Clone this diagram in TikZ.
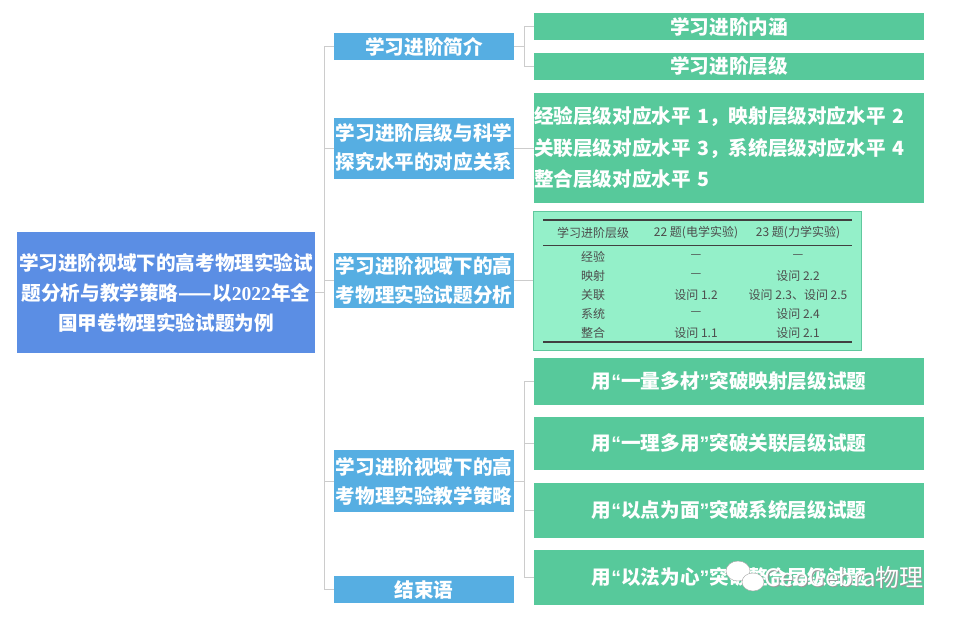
\documentclass[tikz,border=0pt]{standalone}
\usepackage{fontspec}
\setmainfont{Noto Sans CJK SC}
\newfontfamily\numfont{Liberation Serif}
\newfontfamily\quotefont{Liberation Sans}
\newcommand\quoted[1]{{\quotefont “}#1{\quotefont ”}}
\definecolor{rootblue}{RGB}{91,142,228}
\definecolor{topicblue}{RGB}{86,174,226}
\definecolor{leafgreen}{RGB}{87,201,155}
\definecolor{tablegreen}{RGB}{148,240,201}
\definecolor{tableedge}{RGB}{96,200,158}
\tikzset{
    rootbox/.style={fill=rootblue, text=white, font=\bfseries\fontsize{19.6}{30}\selectfont, align=center, inner sep=0pt, minimum width=298, minimum height=121},
    topicbox/.style={fill=topicblue, text=white, font=\bfseries\fontsize{19.6}{29}\selectfont, align=center, inner sep=0pt, minimum width=180},
    leafbox/.style={fill=leafgreen, text=white, font=\bfseries\fontsize{19.6}{31.5}\selectfont, align=center, inner sep=0pt, minimum width=390},
    cell/.style={text=black!70, font=\fontsize{12}{14}\selectfont, inner sep=0pt},
    link/.style={draw=gray!40, line width=0.8pt},
}
\begin{document}
\begin{tikzpicture}[x=1pt, y=-1pt]
        \fill[white] (0, 0) rectangle (960, 622);
        \useasboundingbox (0, 0) rectangle (960, 622);

        \node[rootbox] (root) at (166, 292.5) {学习进阶视域下的高考物理实验试\\题分析与教学策略——以{\numfont 2022}年全\\国甲卷物理实验试题为例};

        \node[topicbox, minimum height=27] (intro) at (424, 46.5) {学习进阶简介};
        \node[topicbox, minimum height=61] (corr) at (424, 148) {学习进阶层级与科学\\探究水平的对应关系};
        \node[topicbox, minimum height=55] (anal) at (424, 280.5) {学习进阶视域下的高\\考物理实验试题分析};
        \node[topicbox, minimum height=62] (strat) at (424, 481) {学习进阶视域下的高\\考物理实验教学策略};
        \node[topicbox, minimum height=27] (concl) at (424, 589.5) {结束语};

        \node[leafbox, minimum height=27] (connot) at (729, 26.5) {学习进阶内涵};
        \node[leafbox, minimum height=27] (levels) at (729, 66.5) {学习进阶层级};
        \node[leafbox, minimum height=110, align=left, text width=390] (maps) at (729, 148) {经验层级对应水平 1，映射层级对应水平 2\\关联层级对应水平 3，系统层级对应水平 4\\整合层级对应水平 5};
        \node[fill=tablegreen, draw=tableedge, line width=1pt, minimum width=328, minimum height=139] (table) at (697, 280.5) {};
        \node[leafbox, minimum height=47] (s1) at (729, 381.5) {用\quoted{一量多材}突破映射层级试题};
        \node[leafbox, minimum height=53] (s2) at (729, 443.5) {用\quoted{一理多用}突破关联层级试题};
        \node[leafbox, minimum height=55] (s3) at (729, 510.5) {用\quoted{以点为面}突破系统层级试题};
        \node[leafbox, minimum height=55] (s4) at (729, 577.5) {用\quoted{以法为心}突破整合层级试题};

        \draw[black!75, line width=1.3pt] (543, 220) -- (852, 220);
        \draw[black!75, line width=0.5pt] (543, 245) -- (852, 245);
        \draw[black!75, line width=1.3pt] (543, 342) -- (852, 342);
        \node[cell] (head1) at (593, 233) {学习进阶层级};
        \node[cell] (head2) at (696, 233) {22 题(电学实验)};
        \node[cell] (head3) at (798, 233) {23 题(力学实验)};
        \foreach \lvl/\qa/\qb [count=\i] in {经验/—/—, 映射/—/设问 2.2, 关联/设问 1.2/设问 2.3、设问 2.5, 系统/—/设问 2.4, 整合/设问 1.1/设问 2.1} {
            \node[cell] (lvl\i) at (593, 238 + 19*\i) {\lvl};
            \node[cell] (qa\i) at (696, 238 + 19*\i) {\qa};
            \node[cell] (qb\i) at (798, 238 + 19*\i) {\qb};
        }

        \coordinate (trunk) at (324, 292.5);
        \draw[link] (root.east) -- (trunk);
        \foreach \n in {intro, corr, anal, strat, concl}
            \draw[link] (trunk) |- (\n.west);
        \coordinate (introfork) at (524, 46.5);
        \draw[link] (intro.east) -- (introfork);
        \foreach \n in {connot, levels}
            \draw[link] (introfork) |- (\n.west);
        \draw[link] (corr.east) -- (maps.west);
        \draw[link] (anal.east) -- (table.west);
        \coordinate (stratfork) at (524, 481);
        \draw[link] (strat.east) -- (stratfork);
        \foreach \n in {s1, s2, s3, s4}
            \draw[link] (stratfork) |- (\n.west);

        \filldraw[fill=white, draw=gray!70] (738, 571) ellipse (12 and 10);
        \filldraw[fill=white, draw=gray!70] (753, 582) ellipse (11 and 9);
        \node[text=gray!80, font=\fontsize{24}{26}\selectfont] (markshade) at (845, 578) {GeoGebra物理};
        \node[text=white, font=\fontsize{24}{26}\selectfont] (mark) at (844, 577) {GeoGebra物理};
\end{tikzpicture}
\end{document}
